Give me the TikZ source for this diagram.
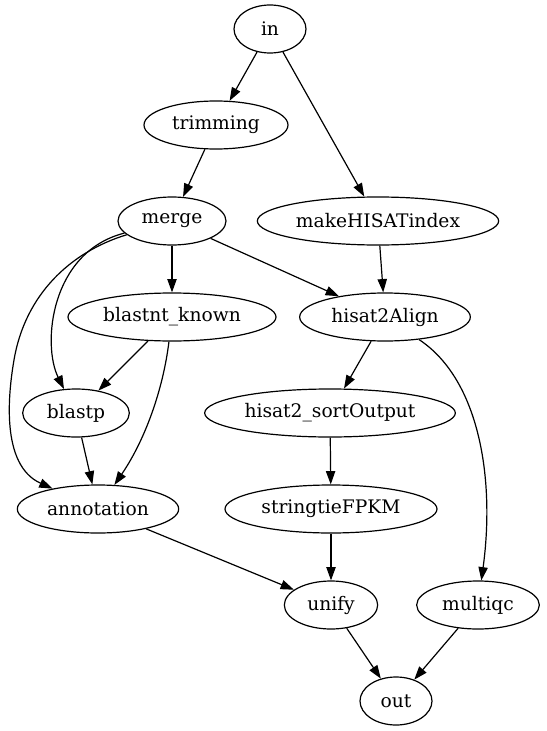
\documentclass[tikz,border=0pt]{standalone}
\usepackage{fontspec}
\setmainfont{DejaVu Serif}
\usetikzlibrary{shapes.geometric,arrows.meta}

\begin{document}
\begin{tikzpicture}[x=0.75pt,y=-0.75pt]
\tikzset{proc/.style={ellipse,draw,line width=0.9pt,minimum height=36pt,inner sep=0pt,font=\fontsize{14}{17}\selectfont},
  edge/.style={line width=0.9pt,-{Triangle[length=10pt,width=7pt]}}}
\useasboundingbox (0,0) rectangle (546,731);

% pipeline steps
\node[proc,minimum width=54pt]  (in)       at (270,29)  {in};
\node[proc,minimum width=108pt] (trimming) at (216,125) {trimming};
\node[proc,minimum width=81pt]  (merge)    at (172,221) {merge};
\node[proc,minimum width=181pt] (index)    at (378,221) {makeHISATindex};
\node[proc,minimum width=156pt] (blastnt)  at (172,317) {blastnt\_known};
\node[proc,minimum width=128pt] (align)    at (385,317) {hisat2Align};
\node[proc,minimum width=80pt]  (blastp)   at (76,413)  {blastp};
\node[proc,minimum width=188pt] (sortout)  at (330,413) {hisat2\_sortOutput};
\node[proc,minimum width=121pt] (annot)    at (98,509)  {annotation};
\node[proc,minimum width=159pt] (fpkm)     at (331,509) {stringtieFPKM};
\node[proc,minimum width=70pt]  (unify)    at (331,605) {unify};
\node[proc,minimum width=92pt]  (multiqc)  at (478,605) {multiqc};
\node[proc,minimum width=54pt]  (out)      at (396,701) {out};

% straight edges
\draw[edge] (in) -- (trimming);
\draw[edge] (in) -- (index);
\draw[edge] (trimming) -- (merge);
\draw[edge] (merge) -- (blastnt);
\draw[edge] (merge) -- (align);
\draw[edge] (index) -- (align);
\draw[edge] (blastnt) -- (blastp);
\draw[edge] (align) -- (sortout);
\draw[edge] (blastp) -- (annot);
\draw[edge] (sortout) -- (fpkm);
\draw[edge] (fpkm) -- (unify);
\draw[edge] (annot) -- (unify);
\draw[edge] (unify) -- (out);
\draw[edge] (multiqc) -- (out);

% curved edges
\draw[edge] (merge) .. controls (50,252) and (42,345) .. (blastp);
\draw[edge] (merge) .. controls (70,252) and (25,295) .. (14,360)
  .. controls (8.5,392) and (0,465) .. (annot);
\draw[edge] (blastnt) .. controls (163,390) and (145,440) .. (annot);
\draw[edge] (align) .. controls (480,380) and (495,480) .. (multiqc);
\end{tikzpicture}
\end{document}
